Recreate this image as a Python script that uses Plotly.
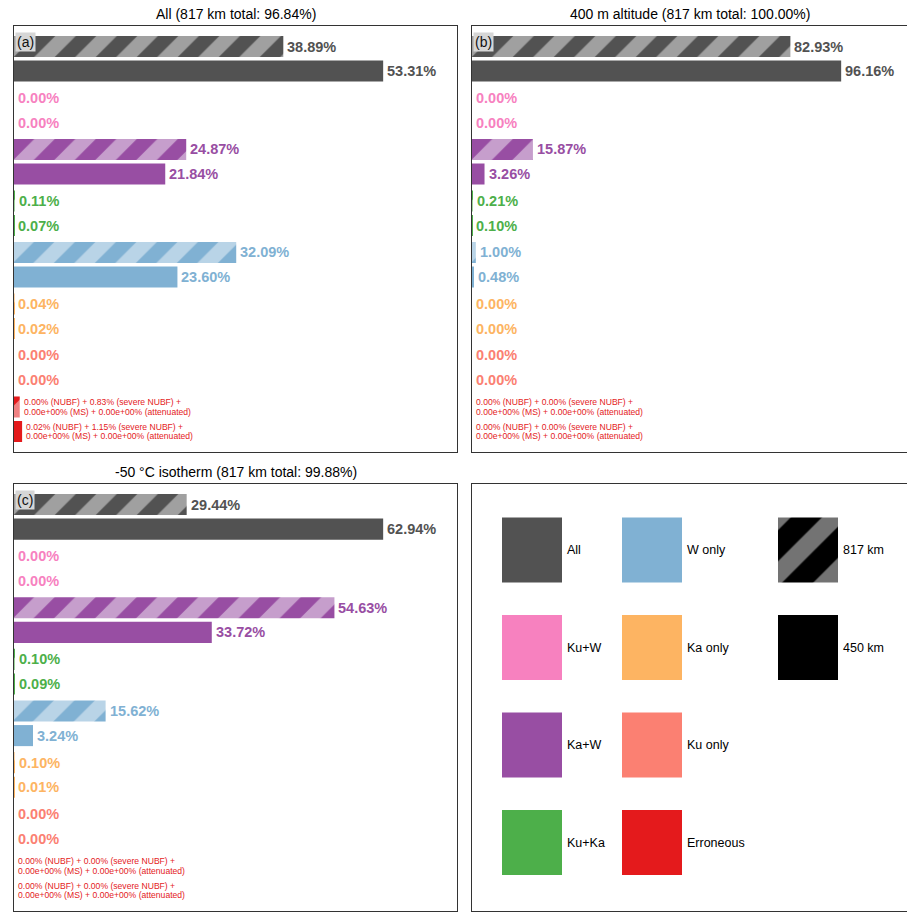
import plotly.graph_objects as go

# ---- data -------------------------------------------------------------
categories = ["All", "Ku+W", "Ka+W", "Ku+Ka", "W only", "Ka only", "Ku only", "Erroneous"]
colors = ["#525252", "#f781bf", "#984ea3", "#4daf4a", "#80b1d3", "#fdb462", "#fb8072", "#e41a1c"]

titles = [
    "All (817 km total: 96.84%)",
    "400 m altitude (817 km total: 100.00%)",
    "-50 °C isotherm (817 km total: 99.88%)",
]
tags = ["(a)", "(b)", "(c)"]

# share of profiles per category (first seven categories), percent
all_817 = [38.89, 0.00, 24.87, 0.11, 32.09, 0.04, 0.00]
all_450 = [53.31, 0.00, 21.84, 0.07, 23.60, 0.02, 0.00]
alt400_817 = [82.93, 0.00, 15.87, 0.21, 1.00, 0.00, 0.00]
alt400_450 = [96.16, 0.00, 3.26, 0.10, 0.48, 0.00, 0.00]
iso50_817 = [29.44, 0.00, 54.63, 0.10, 15.62, 0.10, 0.00]
iso50_450 = [62.94, 0.00, 33.72, 0.09, 3.24, 0.01, 0.00]

# erroneous breakdown per panel (a, b, c)
err_nubf_817 = [0.00, 0.00, 0.00]
err_severe_817 = [0.83, 0.00, 0.00]
err_ms_817 = [0.0, 0.0, 0.0]
err_att_817 = [0.0, 0.0, 0.0]
err_nubf_450 = [0.02, 0.00, 0.00]
err_severe_450 = [1.15, 0.00, 0.00]
err_ms_450 = [0.0, 0.0, 0.0]
err_att_450 = [0.0, 0.0, 0.0]

legend_labels = [["All", "Ku+W", "Ka+W", "Ku+Ka"],
                 ["W only", "Ka only", "Ku only", "Erroneous"],
                 ["817 km", "450 km"]]

# ---- styling ----------------------------------------------------------
FONT = "Liberation Sans, Arial, sans-serif"
W, H = 907, 912
ML, MT, MB = 14, 26, 1
PANEL_W = 443                      # full panel width (right column is cut by the page edge)
LEFT_X0, RIGHT_X0 = 14, 472
TOP_Y0, TOP_Y1 = 26, 452
BOT_Y0, BOT_Y1 = 484, 911
SLOT = 0.476                       # vertical pitch of the two bars in a category
BAR_H = 0.408                      # bar thickness (category units)
Y_PAD = 0.636
LIGHT_ALPHA = 0.55
HATCH = dict(shape="/", fgopacity=1, size=29, solidity=0.5)


def lighten(hexcol, a=LIGHT_ALPHA):
    r, g, b = (int(hexcol[i:i + 2], 16) for i in (1, 3, 5))
    mix = lambda c: round(255 - a * (255 - c))
    return "#%02x%02x%02x" % (mix(r), mix(g), mix(b))


light_colors = [lighten(c) for c in colors]

pw = W - ML
ph = H - MT - MB


def xdom(x0, x1):
    return [(x0 - ML) / pw, min(1.0, (x1 - ML) / pw)]


def ydom(y0, y1):
    return [(H - MB - y1) / ph, (H - MB - y0) / ph]


panels = [
    dict(v817=all_817, v450=all_450, xd=xdom(LEFT_X0, LEFT_X0 + PANEL_W), yd=ydom(TOP_Y0, TOP_Y1)),
    dict(v817=alt400_817, v450=alt400_450, xd=xdom(RIGHT_X0, W), yd=ydom(TOP_Y0, TOP_Y1)),
    dict(v817=iso50_817, v450=iso50_450, xd=xdom(LEFT_X0, LEFT_X0 + PANEL_W), yd=ydom(BOT_Y0, BOT_Y1)),
]

fig = go.Figure()
annotations = []
ypos = list(range(len(categories)))
half = SLOT / 2
off_817 = -half - BAR_H / 2
off_450 = half - BAR_H / 2

for p, pan in enumerate(panels):
    ax = "" if p == 0 else str(p + 1)
    e817 = err_nubf_817[p] + err_severe_817[p] + err_ms_817[p] + err_att_817[p]
    e450 = err_nubf_450[p] + err_severe_450[p] + err_ms_450[p] + err_att_450[p]
    v817 = pan["v817"] + [e817]
    v450 = pan["v450"] + [e450]

    # 817 km: hatched bars, one trace per category so each keeps its own stripe colour
    for k in ypos:
        fig.add_trace(go.Bar(
            x=[v817[k]], y=[k], orientation="h", xaxis="x" + ax, yaxis="y" + ax,
            width=BAR_H, offset=off_817,
            marker=dict(color=light_colors[k], line=dict(width=0),
                        pattern=dict(fgcolor=colors[k], bgcolor=light_colors[k], **HATCH)),
            showlegend=False, hoverinfo="x",
        ))
    # 450 km: solid bars
    fig.add_trace(go.Bar(
        x=v450, y=ypos, orientation="h", xaxis="x" + ax, yaxis="y" + ax,
        width=BAR_H, offset=off_450,
        marker=dict(color=colors, line=dict(width=0)),
        showlegend=False, hoverinfo="x",
    ))

    xmax = max(v450 + v817) * 1.2
    visible = (pan["xd"][1] - pan["xd"][0]) * pw
    fig.update_layout(**{
        "xaxis" + ax: dict(domain=pan["xd"], range=[0, xmax * visible / PANEL_W],
                           showticklabels=False, ticks="", showgrid=False, zeroline=False,
                           showline=True, mirror=True, linecolor="#333", linewidth=1.3,
                           anchor="y" + ax, fixedrange=True),
        "yaxis" + ax: dict(domain=pan["yd"], range=[len(categories) - 1 + Y_PAD, -Y_PAD],
                           showticklabels=False, ticks="", showgrid=False, zeroline=False,
                           showline=True, mirror=(p != 1), linecolor="#333", linewidth=1.3,
                           anchor="x" + ax, fixedrange=True),
    })

    # value labels
    for k in range(len(categories) - 1):
        for val, off in ((v817[k], -half), (v450[k], half)):
            annotations.append(dict(
                x=val, y=k + off, xref="x" + ax, yref="y" + ax, text="%.2f%%" % val,
                showarrow=False, xanchor="left", yanchor="middle", xshift=2,
                font=dict(family=FONT, size=14.5, color=colors[k], weight="bold"),
            ))
    # erroneous breakdown
    k = len(categories) - 1
    breakdown = [
        (v817[k], -half, err_nubf_817[p], err_severe_817[p], err_ms_817[p], err_att_817[p]),
        (v450[k], half, err_nubf_450[p], err_severe_450[p], err_ms_450[p], err_att_450[p]),
    ]
    for val, off, nubf, sev, ms, att in breakdown:
        lines = ["%.2f%% (NUBF) + %.2f%% (severe NUBF) +" % (nubf, sev),
                 "%.2e%% (MS) + %.2e%% (attenuated)" % (ms, att)]
        for li, line in enumerate(lines):
            annotations.append(dict(
                x=val, y=k + off, xref="x" + ax, yref="y" + ax, text=line,
                showarrow=False, xanchor="left", yanchor="middle", xshift=2,
                yshift=4.7 - 9.4 * li,
                font=dict(family=FONT, size=8.6, color=colors[k]),
            ))

    # title and panel tag
    annotations.append(dict(
        x=0.5, y=1, xref="x" + ax + " domain", yref="y" + ax + " domain", text=titles[p],
        showarrow=False, xanchor="center", yanchor="bottom", yshift=2,
        font=dict(family=FONT, size=14, color="black"),
    ))
    annotations.append(dict(
        x=0, y=1, xref="x" + ax + " domain", yref="y" + ax + " domain", text=tags[p],
        showarrow=False, xanchor="left", yanchor="top", xshift=1, yshift=-6,
        bgcolor="#d6d6d6", borderpad=1,
        font=dict(family=FONT, size=14, color="#111"),
    ))

# ---- key panel (d) ----------------------------------------------------
key_x0 = [30, 150, 306]            # swatch left edges, px within panel
key_y0 = [33.5, 131, 228.5, 326]   # swatch top edges
SW_W, SW_H = 60, 65
key_colors = [colors[:4], colors[4:], ["black", "black"]]

for c, labels in enumerate(legend_labels):
    for r, lab in enumerate(labels):
        col = key_colors[c][r]
        marker = dict(color=col, line=dict(width=0))
        if lab == "817 km":
            marker["pattern"] = dict(shape="/", fgcolor="#737373", bgcolor=col,
                                     fgopacity=1, size=40, solidity=0.45)
        fig.add_trace(go.Bar(
            x=[SW_W], y=[key_y0[r] + SW_H / 2], base=[key_x0[c]], width=SW_H,
            offset=-SW_H / 2, orientation="h", xaxis="x4", yaxis="y4",
            marker=marker, showlegend=False, hoverinfo="skip",
        ))
        annotations.append(dict(
            x=key_x0[c] + SW_W, y=key_y0[r] + SW_H / 2, xref="x4", yref="y4", text=lab,
            showarrow=False, xanchor="left", yanchor="middle", xshift=3,
            font=dict(family=FONT, size=12.5, color="black"),
        ))

kd = xdom(RIGHT_X0, W)
fig.update_layout(
    xaxis4=dict(domain=kd, range=[0, (kd[1] - kd[0]) * pw], showticklabels=False, ticks="",
                showgrid=False, zeroline=False, showline=True, mirror=True,
                linecolor="#333", linewidth=1.3, anchor="y4", fixedrange=True),
    yaxis4=dict(domain=ydom(BOT_Y0, BOT_Y1), range=[BOT_Y1 - BOT_Y0, 0], showticklabels=False,
                ticks="", showgrid=False, zeroline=False, showline=True, mirror=False,
                linecolor="#333", linewidth=1.3, anchor="x4", fixedrange=True),
)

fig.update_layout(
    width=W, height=H, margin=dict(l=ML, r=0, t=MT, b=MB, pad=0),
    paper_bgcolor="white", plot_bgcolor="white",
    barmode="overlay",
    annotations=annotations, showlegend=False,
    font=dict(family=FONT),
)

fig.write_html("out.html", config={"displayModeBar": False})
